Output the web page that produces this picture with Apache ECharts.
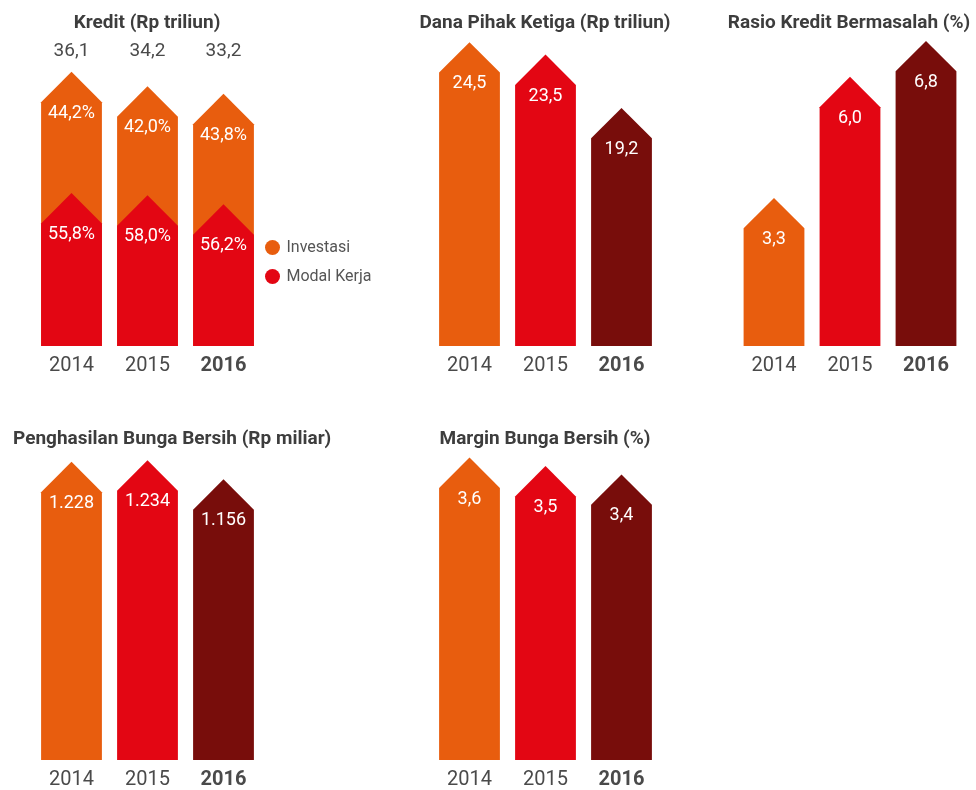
<!DOCTYPE html>
<html>
<head>
<meta charset="utf-8">
<script src="https://cdn.jsdelivr.net/npm/echarts@6/dist/echarts.min.js"></script>
<style>
  html, body { margin: 0; padding: 0; background: #fff; }
  #chart { width: 976px; height: 790px; }
</style>
</head>
<body>
<div id="chart"></div>
<script>
var years = ['2014', '2015', '2016'];
var kreditTotal = [36.1, 34.2, 33.2];
var investasiPct = [44.2, 42.0, 43.8];
var modalKerjaPct = [55.8, 58.0, 56.2];
var danaPihakKetiga = [24.5, 23.5, 19.2];
var rasioKredit = [3.3, 6.0, 6.8];
var penghasilanBunga = [1228, 1234, 1156];
var marginBunga = [3.6, 3.5, 3.4];

var yearColors = ['#E85D0E', '#E30613', '#780D0B'];
var textGray = '#4a4a4a';
var font = 'Roboto, "Liberation Sans", sans-serif';

// angka format Indonesia
function dec(v) { return v.toFixed(1).replace('.', ','); }
function ribuan(v) { return String(v).replace(/\B(?=(\d{3})+$)/g, '.'); }

var chart = echarts.init(document.getElementById('chart'));

// panah: badan persegi + kepala segitiga, puncak = nilai
function arrow(getColor, getLabel) {
    return function (params, api) {
        var i = api.value(0);
        var v = api.value(1);
        var top = api.coord([i, v]);
        var base = api.coord([i, 0]);
        var w = api.size([1, 0])[0] * 0.8;
        var cx = top[0], l = cx - w / 2, r = cx + w / 2;
        var sh = top[1] + w / 2;
        return {
            type: 'group',
            children: [
                {
                    type: 'polygon',
                    shape: { points: [[l, base[1]], [l, sh], [cx, top[1]], [r, sh], [r, base[1]]] },
                    style: { fill: getColor(params.dataIndex) }
                },
                {
                    type: 'text',
                    style: {
                        text: getLabel(params.dataIndex),
                        x: cx, y: sh + 11,
                        align: 'center', verticalAlign: 'middle',
                        fill: '#fff', fontSize: 18, fontFamily: font
                    }
                }
            ]
        };
    };
}

function seriesData(arr) {
    return arr.map(function (v, i) { return [i, v]; });
}

var modalKerja = kreditTotal.map(function (t, i) { return t * modalKerjaPct[i] / 100; });

var grids = [
    { left: 33.5, width: 228, top: 65, bottom: 444 },
    { left: 431.5, width: 228, top: 36, bottom: 444 },
    { left: 736, width: 228, top: 32, bottom: 444 },
    { left: 33.5, width: 228, top: 420, bottom: 28 },
    { left: 431.5, width: 228, top: 424, bottom: 28 }
];
var maxes = [37, 25, 7, 1400, 4];

var xAxes = grids.map(function (g, k) {
    return {
        type: 'category', gridIndex: k, data: years,
        axisLine: { show: false }, axisTick: { show: false },
        axisLabel: {
            interval: 0, margin: 10, fontSize: 20, color: textGray, fontFamily: font,
            formatter: function (v) { return v === '2016' ? '{b|' + v + '}' : v; },
            rich: { b: { fontSize: 20, fontWeight: 'bold', color: textGray, fontFamily: font } }
        }
    };
});
// total kredit di atas
xAxes.push({
    type: 'category', gridIndex: 0, position: 'top',
    data: kreditTotal.map(dec),
    axisLine: { show: false }, axisTick: { show: false },
    axisLabel: { interval: 0, margin: 4, fontSize: 19, color: textGray, fontFamily: font }
});

var yAxes = grids.map(function (g, k) {
    return { type: 'value', gridIndex: k, min: 0, max: maxes[k], show: false };
});

function titleAt(text, x, y, align) {
    return {
        text: text, left: x, top: y, textAlign: align, padding: 0,
        textStyle: { fontSize: 19, fontWeight: 'bold', color: '#3d3d3d', fontFamily: font }
    };
}

var option = {
    animation: false,
    title: [
        titleAt('Kredit (Rp triliun)', 147, 14, 'center'),
        titleAt('Dana Pihak Ketiga (Rp triliun)', 545, 14, 'center'),
        titleAt('Rasio Kredit Bermasalah (%)', 849, 14, 'center'),
        titleAt('Penghasilan Bunga Bersih (Rp miliar)', 13, 430, 'left'),
        titleAt('Margin Bunga Bersih (%)', 545, 430, 'center')
    ],
    legend: {
        data: ['Investasi', 'Modal Kerja'],
        orient: 'vertical', left: 265, top: 239.5, padding: 0,
        icon: 'circle', itemWidth: 18, itemHeight: 15, itemGap: 13,
        selectedMode: false,
        textStyle: { fontSize: 16, color: '#555', fontFamily: font }
    },
    grid: grids,
    xAxis: xAxes,
    yAxis: yAxes,
    series: [
        {
            name: 'Investasi', type: 'custom', xAxisIndex: 0, yAxisIndex: 0,
            itemStyle: { color: yearColors[0] },
            data: seriesData(kreditTotal),
            renderItem: arrow(function () { return yearColors[0]; },
                function (i) { return dec(investasiPct[i]) + '%'; })
        },
        {
            name: 'Modal Kerja', type: 'custom', xAxisIndex: 0, yAxisIndex: 0,
            itemStyle: { color: yearColors[1] },
            data: seriesData(modalKerja),
            renderItem: arrow(function () { return yearColors[1]; },
                function (i) { return dec(modalKerjaPct[i]) + '%'; })
        },
        {
            name: 'Dana Pihak Ketiga', type: 'custom', xAxisIndex: 1, yAxisIndex: 1,
            data: seriesData(danaPihakKetiga),
            renderItem: arrow(function (i) { return yearColors[i]; },
                function (i) { return dec(danaPihakKetiga[i]); })
        },
        {
            name: 'Rasio Kredit Bermasalah', type: 'custom', xAxisIndex: 2, yAxisIndex: 2,
            data: seriesData(rasioKredit),
            renderItem: arrow(function (i) { return yearColors[i]; },
                function (i) { return dec(rasioKredit[i]); })
        },
        {
            name: 'Penghasilan Bunga Bersih', type: 'custom', xAxisIndex: 3, yAxisIndex: 3,
            data: seriesData(penghasilanBunga),
            renderItem: arrow(function (i) { return yearColors[i]; },
                function (i) { return ribuan(penghasilanBunga[i]); })
        },
        {
            name: 'Margin Bunga Bersih', type: 'custom', xAxisIndex: 4, yAxisIndex: 4,
            data: seriesData(marginBunga),
            renderItem: arrow(function (i) { return yearColors[i]; },
                function (i) { return dec(marginBunga[i]); })
        }
    ]
};
chart.setOption(option);
</script>
</body>
</html>
